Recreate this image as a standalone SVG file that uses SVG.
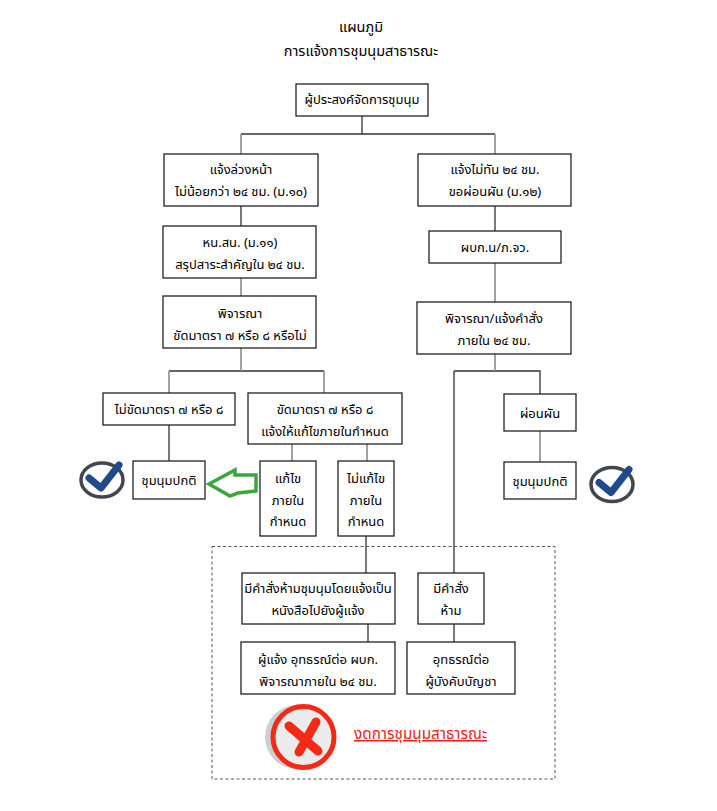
<svg xmlns="http://www.w3.org/2000/svg" width="717" height="811" viewBox="0 0 717 811">
<style>
text{font-family:"Noto Sans Thai","Noto Sans","DejaVu Sans","Liberation Sans",sans-serif;font-size:13px;fill:#000;text-anchor:middle}
.t{font-size:14.500px}
.b{fill:#fff;stroke:#222;stroke-width:1.3}
.c{fill:none;stroke:#333;stroke-width:1.3}
.g{fill:none;stroke:#8a8a90;stroke-width:1.6}
.r{fill:#f0201a;font-size:15.300px;text-decoration:underline;text-anchor:start}
</style>
<defs>
<g id="tick"><ellipse cx="0" cy="0" rx="21" ry="17" fill="#fff" stroke="#41474c" stroke-width="3.500"/><path d="M-13,-2 L-1,8 L17,-15" fill="none" stroke="#1f4a8c" stroke-width="7" stroke-linecap="round" stroke-linejoin="round"/></g>
</defs>
<rect width="717" height="811" fill="#fff"/>
<g id="title"><text class="t" x="361" y="32">แผนภูมิ</text><text class="t" x="361" y="56">การแจ้งการชุมนุมสาธารณะ</text></g>
<g id="connectors">
<path class="c" d="M362,116V134M241,134H495M241,206V226M169,371H324M169,425V461M366,536V573M368,624V642M454,371V573M454,371H540V394M454,624V642M495,206V231"/>
<path class="g" d="M241,134V154M495,134V154M241,278V296M241,348V371M169,371V393M324,371V393M292,444V461M367,444V461M495,263V302M495,354V371M540,431V462"/>
</g>
<rect id="zone" x="212" y="546.500" width="343" height="232.500" fill="none" stroke="#555" stroke-width="1" stroke-dasharray="3 2.500"/>
<g id="n1"><rect class="b" x="296" y="84" width="132" height="32"/><text x="362" y="104">ผู้ประสงค์จัดการชุมนุม</text></g>
<g id="n2"><rect class="b" x="164" y="154" width="154" height="52"/><text x="241" y="174">แจ้งล่วงหน้า</text><text x="241" y="196">ไม่น้อยกว่า ๒๔ ชม. (ม.๑๐)</text></g>
<g id="n3"><rect class="b" x="418" y="154" width="153" height="52"/><text x="495" y="174">แจ้งไม่ทัน ๒๔ ชม.</text><text x="495" y="196">ขอผ่อนผัน (ม.๑๒)</text></g>
<g id="n4"><rect class="b" x="163" y="226" width="153" height="52"/><text x="240" y="247">หน.สน. (ม.๑๑)</text><text x="240" y="269">สรุปสาระสำคัญใน ๒๔ ชม.</text></g>
<g id="n5"><rect class="b" x="163" y="296" width="153" height="52"/><text x="240" y="318">พิจารณา</text><text x="240" y="340">ขัดมาตรา ๗ หรือ ๘ หรือไม่</text></g>
<g id="n6"><rect class="b" x="429" y="231" width="132" height="32"/><text x="495" y="252">ผบก.น/ภ.จว.</text></g>
<g id="n7"><rect class="b" x="417" y="302" width="154" height="52"/><text x="494" y="323">พิจารณา/แจ้งคำสั่ง</text><text x="494" y="345">ภายใน ๒๔ ชม.</text></g>
<g id="n8"><rect class="b" x="103" y="393" width="132" height="32"/><text x="169" y="414">ไม่ขัดมาตรา ๗ หรือ ๘</text></g>
<g id="n9"><rect class="b" x="248" y="393" width="154" height="51"/><text x="325" y="414">ขัดมาตรา ๗ หรือ ๘</text><text x="325" y="436">แจ้งให้แก้ไขภายในกำหนด</text></g>
<g id="n10"><rect class="b" x="504" y="394" width="72" height="37"/><text x="540" y="418">ผ่อนผัน</text></g>
<g id="n11"><rect class="b" x="133" y="461" width="72" height="38"/><text x="169" y="485">ชุมนุมปกติ</text></g>
<g id="n12"><rect class="b" x="260" y="461" width="56" height="75"/><text x="288" y="483">แก้ไข</text><text x="288" y="505">ภายใน</text><text x="288" y="526">กำหนด</text></g>
<g id="n13"><rect class="b" x="338" y="461" width="56" height="75"/><text x="366" y="483">ไม่แก้ไข</text><text x="366" y="505">ภายใน</text><text x="366" y="526">กำหนด</text></g>
<g id="n14"><rect class="b" x="504" y="462" width="72" height="37"/><text x="540" y="486">ชุมนุมปกติ</text></g>
<g id="n15"><rect class="b" x="242" y="573" width="153" height="51"/><text x="318" y="593">มีคำสั่งห้ามชุมนุมโดยแจ้งเป็น</text><text x="318" y="615">หนังสือไปยังผู้แจ้ง</text></g>
<g id="n16"><rect class="b" x="418" y="573" width="66" height="51"/><text x="451" y="593">มีคำสั่ง</text><text x="451" y="615">ห้าม</text></g>
<g id="n17"><rect class="b" x="241" y="642" width="154" height="52"/><text x="318" y="664">ผู้แจ้ง อุทธรณ์ต่อ ผบก.</text><text x="318" y="686">พิจารณาภายใน ๒๔ ชม.</text></g>
<g id="n18"><rect class="b" x="407" y="642" width="108" height="52"/><text x="461" y="664">อุทธรณ์ต่อ</text><text x="461" y="686">ผู้บังคับบัญชา</text></g>
<use href="#tick" x="102" y="480"/>
<use href="#tick" x="612" y="484.500"/>
<path id="arrow" d="M209,484 L235,470 V475 H256 V491 L238,493 L230,496 Z" fill="#fff" stroke="#3aa83c" stroke-width="3.500"/>
<g id="cross">
<circle cx="297" cy="737" r="32" fill="#c9d2d2"/>
<circle cx="303.500" cy="737" r="30.500" fill="#e9eceb" stroke="#f42a17" stroke-width="5"/>
<path d="M289,726 L318,751 M316,722 L299,752" fill="none" stroke="#f42a17" stroke-width="9" stroke-linecap="round"/>
</g>
<text class="r" x="354" y="739">งดการชุมนุมสาธารณะ</text>
</svg>
